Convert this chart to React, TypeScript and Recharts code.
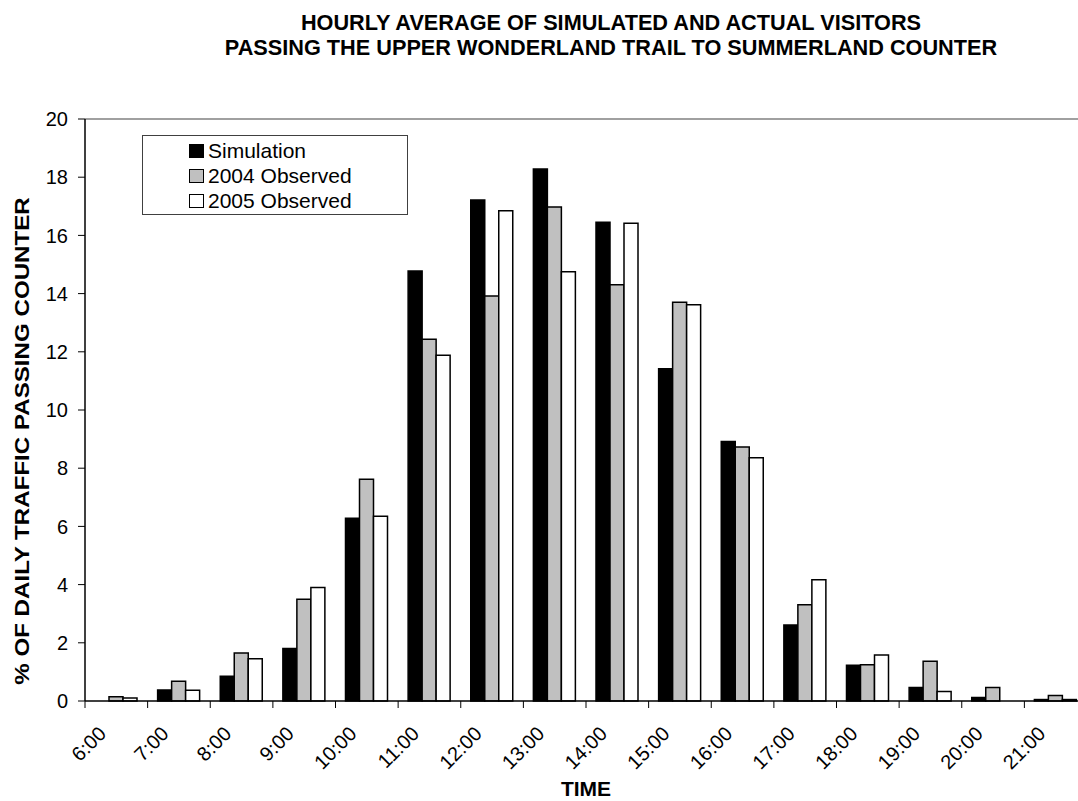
import React from 'react';
import { BarChart, Bar, XAxis, YAxis, ReferenceLine } from 'recharts';

const times = ['6:00', '7:00', '8:00', '9:00', '10:00', '11:00', '12:00', '13:00', '14:00', '15:00', '16:00', '17:00', '18:00', '19:00', '20:00', '21:00'];
const simulation = [0, 0.38, 0.85, 1.8, 6.28, 14.78, 17.22, 18.28, 16.45, 11.42, 8.92, 2.61, 1.23, 0.46, 0.12, 0.05];
const observed2004 = [0.15, 0.68, 1.65, 3.5, 7.62, 12.43, 13.92, 16.98, 14.3, 13.7, 8.73, 3.31, 1.25, 1.37, 0.46, 0.19];
const observed2005 = [0.1, 0.37, 1.45, 3.9, 6.35, 11.88, 16.85, 14.75, 16.42, 13.62, 8.36, 4.17, 1.58, 0.33, 0, 0.05];
const yTicks = [0, 2, 4, 6, 8, 10, 12, 14, 16, 18, 20];
const seriesNames = ['Simulation', '2004 Observed', '2005 Observed'];
const seriesFills = ['#000000', '#C0C0C0', '#FFFFFF'];
const titleLines = ['HOURLY AVERAGE OF SIMULATED AND ACTUAL VISITORS', 'PASSING THE UPPER WONDERLAND TRAIL TO SUMMERLAND COUNTER'];

const data = times.map((t, i) => ({
  time: t,
  sim: simulation[i],
  o2004: observed2004[i],
  o2005: observed2005[i],
}));

const FONT = '"Liberation Sans", Arial, Helvetica, sans-serif';
const CHART_W = 1097;
const CHART_H = 801;
const MARGIN = { top: 119, right: 10, bottom: 0, left: 0 };
const Y_AXIS_W = 85;
const PLOT_W = CHART_W - MARGIN.right - Y_AXIS_W;
const BAND = PLOT_W / times.length;

function XTick(props: any) {
  const { x, y, payload } = props;
  const bx = x - BAND / 2;
  const ax = x - 9;
  const ay = y + 34;
  return (
    <g>
      <line x1={bx} y1={y} x2={bx} y2={y + 7} stroke="#000" strokeWidth={1} />
      <text
        x={ax}
        y={ay}
        transform={`rotate(-45, ${ax}, ${ay})`}
        textAnchor="end"
        fontSize={20}
        fontFamily={FONT}
        fill="#000"
      >
        {payload.value}
      </text>
    </g>
  );
}

function YLabel(props: any) {
  const vb = props.viewBox || { x: 0, y: 119, width: 85, height: 582 };
  const cx = vb.x + 28.5;
  const cy = vb.y + vb.height / 2 + 31;
  return (
    <text
      x={0}
      y={0}
      transform={`translate(${cx}, ${cy}) rotate(-90) scale(1.15, 1)`}
      textAnchor="middle"
      fontSize={21}
      fontWeight="bold"
      fontFamily={FONT}
      fill="#000"
    >
      % OF DAILY TRAFFIC PASSING COUNTER
    </text>
  );
}

function XLabel(props: any) {
  const vb = props.viewBox || { x: 85, y: 701, width: 1002, height: 100 };
  return (
    <text
      x={vb.x + vb.width / 2}
      y={vb.y + 95}
      textAnchor="middle"
      fontSize={21}
      fontWeight="bold"
      fontFamily={FONT}
      fill="#000"
    >
      TIME
    </text>
  );
}

export default function App() {
  return (
    <div
      style={{
        position: 'fixed',
        left: 0,
        top: 0,
        width: 1078,
        height: 801,
        overflow: 'hidden',
        background: '#fff',
        fontFamily: FONT,
      }}
    >
      <div
        style={{
          position: 'absolute',
          left: 0,
          top: 10,
          width: 1222,
          textAlign: 'center',
          fontSize: 21.7,
          fontWeight: 'bold',
          lineHeight: '25px',
          color: '#000',
          whiteSpace: 'nowrap',
        }}
      >
        {titleLines.map((l) => (
          <div key={l}>{l}</div>
        ))}
      </div>
      <div style={{ position: 'absolute', left: 0, top: 0 }}>
        <BarChart
          width={CHART_W}
          height={CHART_H}
          data={data}
          margin={MARGIN}
          barGap={0}
          barSize={14}
        >
          <ReferenceLine y={20} stroke="#808080" strokeWidth={1.5} ifOverflow="extendDomain" />
          <XAxis
            dataKey="time"
            height={100}
            tickLine={false}
            tickSize={0}
            tickMargin={0}
            axisLine={{ stroke: '#000', strokeWidth: 1.5 }}
            tick={<XTick />}
            interval={0}
            label={<XLabel />}
          />
          <YAxis
            width={Y_AXIS_W}
            domain={[0, 20]}
            ticks={yTicks}
            interval={0}
            tickSize={7}
            tickMargin={10}
            tickLine={{ stroke: '#000' }}
            axisLine={{ stroke: '#000', strokeWidth: 1.5 }}
            tick={{ fontSize: 20, fill: '#000', fontFamily: FONT }}
            label={<YLabel />}
          />
          <Bar dataKey="sim" name={seriesNames[0]} fill={seriesFills[0]} stroke="#000" strokeWidth={1.5} isAnimationActive={false} />
          <Bar dataKey="o2004" name={seriesNames[1]} fill={seriesFills[1]} stroke="#000" strokeWidth={1.5} isAnimationActive={false} />
          <Bar dataKey="o2005" name={seriesNames[2]} fill={seriesFills[2]} stroke="#000" strokeWidth={1.5} isAnimationActive={false} />
        </BarChart>
      </div>
      <div
        style={{
          position: 'absolute',
          left: 142,
          top: 135,
          width: 266,
          height: 80,
          boxSizing: 'border-box',
          border: '1.5px solid #404040',
          background: '#fff',
          paddingTop: 2,
        }}
      >
        {seriesNames.map((n, i) => (
          <div
            key={n}
            style={{
              display: 'flex',
              alignItems: 'center',
              height: 25,
              paddingLeft: 46,
              fontSize: 21,
              color: '#000',
              whiteSpace: 'nowrap',
            }}
          >
            <span
              style={{
                display: 'inline-block',
                width: 15,
                height: 14,
                boxSizing: 'border-box',
                border: '1.5px solid #000',
                background: seriesFills[i],
                marginRight: 4,
              }}
            />
            <span>{n}</span>
          </div>
        ))}
      </div>
    </div>
  );
}
